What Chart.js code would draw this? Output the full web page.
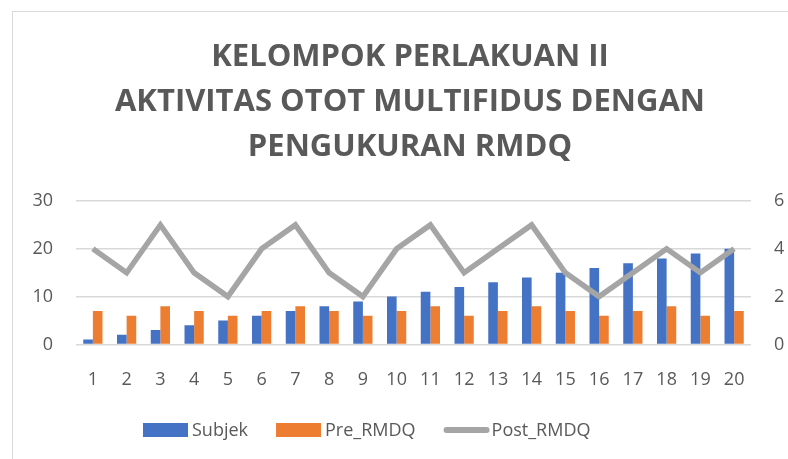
<!DOCTYPE html>
<html><head><meta charset="utf-8">
<script src="https://cdn.jsdelivr.net/npm/chart.js@4/dist/chart.umd.min.js"></script>
<style>
html,body{margin:0;padding:0;background:#fff;overflow:hidden;}
#wrap{position:absolute;left:12px;top:11px;width:800px;height:470px;border:1px solid #d9d9d9;box-sizing:border-box;}
canvas{display:block;}
</style></head><body>
<div id="wrap"><canvas id="c" width="775" height="447"></canvas></div>
<script>
const categories = ["1","2","3","4","5","6","7","8","9","10","11","12","13","14","15","16","17","18","19","20"];
const subjek = [1,2,3,4,5,6,7,8,9,10,11,12,13,14,15,16,17,18,19,20];
const preRMDQ = [7,6,8,7,6,7,8,7,6,7,8,6,7,8,7,6,7,8,6,7];
const postRMDQ = [4,3,5,3,2,4,5,3,2,4,5,3,4,5,3,2,3,4,3,4];
const titleLines = ["KELOMPOK PERLAKUAN II","AKTIVITAS OTOT MULTIFIDUS DENGAN","PENGUKURAN RMDQ"];
const legendOrder = ["Subjek","Pre_RMDQ","Post_RMDQ"];

const FONT = "'Open Sans', 'Liberation Sans', sans-serif";
Chart.defaults.font.family = FONT;
Chart.defaults.color = "#595959";

const customLegend = {
  id:'customLegend',
  afterDraw(chart){
    const ctx = chart.ctx;
    ctx.save();
    ctx.font = "18px " + FONT;
    ctx.textBaseline = 'middle';
    let x = 130; const cy = 418;
    legendOrder.forEach(name=>{
      const ds = chart.data.datasets.find(d=>d.label===name);
      if(ds.type==='line'){
        ctx.strokeStyle = ds.borderColor; ctx.lineWidth = 6; ctx.lineCap='round';
        ctx.beginPath(); ctx.moveTo(x+3, cy); ctx.lineTo(x+43, cy); ctx.stroke();
        x += 48;
      } else {
        ctx.fillStyle = ds.backgroundColor;
        ctx.fillRect(x, cy-7, 45, 14);
        x += 49;
      }
      ctx.fillStyle = '#595959';
      ctx.fillText(name, x, cy+1);
      x += ctx.measureText(name).width + 28;
    });
    ctx.restore();
  }
};

new Chart(document.getElementById('c'), {
  data: {
    labels: categories,
    datasets: [
      {type:'line', label:'Post_RMDQ', data: postRMDQ, yAxisID:'y1', borderColor:'#a5a5a5', backgroundColor:'#a5a5a5', borderWidth:5.5, pointRadius:0, tension:0, order:0},
      {type:'bar', label:'Subjek', data: subjek, yAxisID:'y', backgroundColor:'#4472c4', categoryPercentage:0.57, barPercentage:1, order:1},
      {type:'bar', label:'Pre_RMDQ', data: preRMDQ, yAxisID:'y', backgroundColor:'#ed7d31', categoryPercentage:0.57, barPercentage:1, order:2}
    ]
  },
  plugins:[customLegend],
  options: {
    responsive:false, animation:false,
    devicePixelRatio:1,
    layout:{padding:{left:19, right:0, top:0, bottom:68}},
    plugins:{
      title:{display:true, text:titleLines, font:{size:31, weight:'bold', family:FONT, lineHeight:1.452}, color:'#595959', padding:{top:23, bottom:31}},
      legend:{display:false},
      tooltip:{enabled:false}
    },
    scales:{
      x:{grid:{display:false, drawTicks:true, tickLength:25}, border:{display:false}, ticks:{font:{size:18}, color:'#595959', padding:0, maxRotation:0, autoSkip:false}},
      y:{position:'left', min:0, max:30, afterFit:(s)=>{s.width=44;}, ticks:{stepSize:10, font:{size:18}, color:'#595959', padding:23}, grid:{color:'#d9d9d9', lineWidth:1.5, drawTicks:false}, border:{display:false}},
      y1:{position:'right', min:0, max:6, afterFit:(s)=>{s.width=37;}, ticks:{stepSize:2, font:{size:18}, color:'#595959', padding:23}, grid:{display:false, drawTicks:false}, border:{display:false}}
    }
  }
});
</script>
</body></html>
